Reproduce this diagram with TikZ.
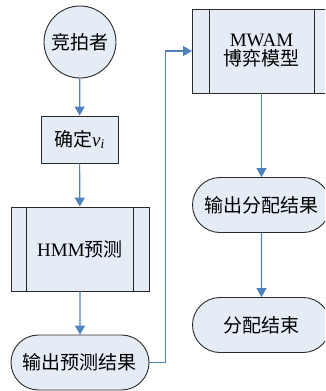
\documentclass[tikz,border=0pt]{standalone}
\usepackage{fontspec}
\setmainfont{Liberation Serif}
\newfontfamily\cjk{Noto Sans CJK SC}
\usetikzlibrary{arrows.meta,calc,shapes.misc}
\definecolor{boxfill}{HTML}{E5ECF6}
\definecolor{arrowblue}{HTML}{4F81BD}
\definecolor{edge}{HTML}{2A2A2A}
\tikzset{
  x=1pt,y=-1pt,
  base/.style={draw=edge,line width=0.9pt,fill=boxfill,inner sep=0pt,font=\fontsize{19}{21}\selectfont},
  circ/.style={base,circle,minimum size=72pt},
  plainbox/.style={base,rectangle,minimum width=77pt,minimum height=47pt},
  procbox/.style={base,rectangle,minimum width=138pt,minimum height=84pt},
  term/.style={base,rounded rectangle,minimum width=138pt,minimum height=55pt},
  flow/.style={draw=arrowblue,line width=1.2pt,-{Triangle[width=10pt,length=9pt]}},
  inner/.style={draw=edge,line width=0.9pt}
}
\begin{document}
\begin{tikzpicture}
\useasboundingbox (0,0) rectangle (325,391);
\clip (0,0) rectangle (325,391);
\node[circ] (c) at (80,42) {\cjk 竞拍者};
\node[plainbox] (d) at (79.5,139.5) {{\cjk 确定}\textit{v}\textsubscript{\textit{i}}};
\node[procbox] (h) at (80,249) {HMM\cjk 预测};
\draw[inner] ($(h.north west)+(16,0)$) -- ($(h.south west)+(16,0)$);
\draw[inner] ($(h.north east)+(-16,0)$) -- ($(h.south east)+(-16,0)$);
\node[term] (o) at (80,362.5) {\cjk 输出预测结果};
\node[procbox,align=center] (m) at (261.5,51) {MWAM\\[-2pt]{\cjk 博弈模型}};
\draw[inner] ($(m.north west)+(17,0)$) -- ($(m.south west)+(17,0)$);
\draw[inner] ($(m.north east)+(-17,0)$) -- ($(m.south east)+(-17,0)$);
\node[term] (r1) at (261.5,205) {\cjk 输出分配结果};
\node[term] (r2) at (261.5,325) {\cjk 分配结束};
\draw[flow] (c) -- (d);
\draw[flow] (d) -- (h);
\draw[flow] (h) -- (o);
\draw[flow] (o.east) -- ++(16,0) |- (m.west);
\draw[flow] (m) -- (r1);
\draw[flow] (r1) -- (r2);
\end{tikzpicture}
\end{document}
